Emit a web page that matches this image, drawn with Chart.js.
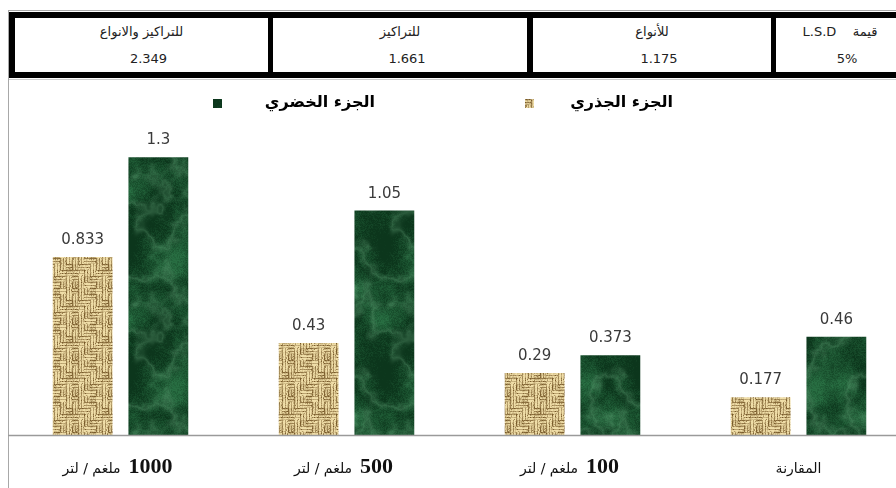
<!DOCTYPE html>
<html>
<head>
  <meta charset="UTF-8">
  <title>الجزء الجذري والجزء الخضري</title>
  <script src="https://cdn.jsdelivr.net/npm/chart.js"></script>
  <style>
    html, body {
      margin: 0;
      padding: 0;
      overflow: hidden;
      background: #fff;
    }

    #wrap {
      position: relative;
      width: 920px;
      height: 488px;
    }

    #chart {
      position: absolute;
      left: 0;
      top: 0;
    }

    #lsd {
      position: absolute;
      left: 9px;
      top: 12px;
      width: 901px;
      height: 66px;
      box-sizing: border-box;
      border: 6px solid #000;
      background: #000;
      display: flex;
    }

    .cell {
      background: #fff;
      text-align: center;
      font-family: 'DejaVu Sans', sans-serif;
      font-size: 13px;
      color: #222;
    }

    .cell div {
      height: 27px;
      line-height: 28px;
      white-space: nowrap;
    }

    .cell .val {
      padding-left: 14px;
    }

    .legend-box {
      position: absolute;
      width: 9px;
      height: 9px;
      top: 99px;
    }

    .legend-text {
      position: absolute;
      top: 92px;
      line-height: 20px;
      font-family: 'DejaVu Sans', sans-serif;
      font-weight: bold;
      font-size: 16px;
      color: #000;
      direction: rtl;
      white-space: nowrap;
    }
  </style>
</head>
<body>
  <div id="wrap">
    <canvas id="chart" width="920" height="488"></canvas>
    <div id="lsd"></div>
    <div class="legend-box" id="box-root" style="left:525px"></div>
    <span class="legend-text" id="txt-root" style="right:247px"></span>
    <div class="legend-box" id="box-shoot" style="left:213px"></div>
    <span class="legend-text" id="txt-shoot" style="right:545px"></span>
  </div>

  <script>
    const categories = ['1000 ملغم / لتر', '500 ملغم / لتر', '100 ملغم / لتر', 'المقارنة'];
    const seriesNames = ['الجزء الجذري', 'الجزء الخضري'];
    const rootValues = [0.833, 0.43, 0.29, 0.177];
    const shootValues = [1.3, 1.05, 0.373, 0.46];

    const lsdHeaders = ['للتراكيز والانواع', 'للتراكيز', 'للأنواع', 'قيمة\u00a0\u00a0\u00a0 L.S.D'];
    const lsdValues = ['2.349', '1.661', '1.175', '5%'];

    // small deterministic generator so the textures look the same every load
    function seeded(seed) {
      return function () {
        seed = (seed * 16807) % 2147483647;
        return (seed - 1) / 2147483646;
      };
    }

    // tileable value noise on a g x g lattice
    function makeNoise(g, rand) {
      const grid = [];
      for (let i = 0; i < g * g; i++) grid.push(rand());
      const at = (i, j) => grid[((j % g + g) % g) * g + ((i % g + g) % g)];
      const fade = t => t * t * (3 - 2 * t);
      return function (u, v) { // u, v in [0, 1)
        const x = u * g, y = v * g;
        const i = Math.floor(x), j = Math.floor(y);
        const fx = fade(x - i), fy = fade(y - j);
        const a = at(i, j) + (at(i + 1, j) - at(i, j)) * fx;
        const b = at(i, j + 1) + (at(i + 1, j + 1) - at(i, j + 1)) * fx;
        return a + (b - a) * fy;
      };
    }

    function fbm(layers, u, v) {
      let s = 0, w = 0.5, tot = 0;
      layers.forEach(n => { s += n(u, v) * w; tot += w; w *= 0.5; });
      return s / tot;
    }

    // woven sacking texture for the root bars
    function burlapTile() {
      const size = 36;
      const c = document.createElement('canvas');
      c.width = c.height = size;
      const g = c.getContext('2d');
      const img = g.createImageData(size, size);
      const rand = seeded(11);
      const light = [240, 222, 168];
      const dark = [120, 90, 42];
      const profile = [0.3, 0.85, 1.0, 0.45, 0.95, 0.8];
      const cellShade = [];
      for (let i = 0; i < 36; i++) cellShade.push((rand() - 0.5) * 0.35);
      for (let y = 0; y < size; y++) {
        for (let x = 0; x < size; x++) {
          const cx = Math.floor(x / 6), cy = Math.floor(y / 6);
          const horiz = (cx * 7 + cy * 3) % 4 < 2;
          let s = profile[horiz ? y % 6 : x % 6] + cellShade[cy * 6 + cx];
          s += (rand() - 0.5) * 0.35;
          if (rand() < 0.06) s -= 0.45;
          s = Math.max(0, Math.min(1, s));
          const i = (y * size + x) * 4;
          for (let k = 0; k < 3; k++) img.data[i + k] = dark[k] + (light[k] - dark[k]) * s;
          img.data[i + 3] = 255;
        }
      }
      g.putImageData(img, 0, 0);
      return c;
    }

    // green marble texture for the shoot bars
    function marbleTile() {
      const W = 128, H = 128;
      const c = document.createElement('canvas');
      c.width = W;
      c.height = H;
      const g = c.getContext('2d');
      const img = g.createImageData(W, H);
      const rand = seeded(29);
      const body = [makeNoise(4, rand), makeNoise(8, rand), makeNoise(16, rand), makeNoise(32, rand)];
      const veins = [makeNoise(4, rand), makeNoise(8, rand), makeNoise(16, rand), makeNoise(32, rand)];
      const deep = [12, 54, 28];
      const mid = [40, 110, 66];
      const vein = [100, 162, 120];
      for (let y = 0; y < H; y++) {
        for (let x = 0; x < W; x++) {
          const u = x / W, v = y / H;
          const b = fbm(body, u, v);
          const r = fbm(veins, u, v);
          const vn = Math.pow(Math.max(0, 1 - Math.abs(r - 0.5) * 7), 2);
          const t = Math.max(0, Math.min(1, (b - 0.25) * 1.8 + (rand() - 0.5) * 0.4));
          const i = (y * W + x) * 4;
          for (let k = 0; k < 3; k++) {
            const base = deep[k] + (mid[k] - deep[k]) * t;
            img.data[i + k] = base + (vein[k] - base) * vn * 0.35;
          }
          img.data[i + 3] = 255;
        }
      }
      g.putImageData(img, 0, 0);
      return c;
    }

    const burlap = burlapTile();
    const marble = marbleTile();
    const patCtx = document.createElement('canvas').getContext('2d');
    const rootFill = patCtx.createPattern(burlap, 'repeat');
    const shootFill = patCtx.createPattern(marble, 'repeat');

    // LSD table
    const cellWidths = [253, 254, 238, 128];
    const cellGaps = [0, 5, 6, 5];
    const lsd = document.getElementById('lsd');
    lsdHeaders.forEach((h, i) => {
      const cell = document.createElement('div');
      cell.className = 'cell';
      cell.style.width = cellWidths[i] + 'px';
      cell.style.marginLeft = cellGaps[i] + 'px';
      cell.innerHTML = `<div dir="rtl">${h}</div><div class="val">${lsdValues[i]}</div>`;
      lsd.appendChild(cell);
    });

    // legend
    document.getElementById('txt-root').textContent = seriesNames[0];
    document.getElementById('txt-shoot').textContent = seriesNames[1];
    document.getElementById('box-root').style.background = `url(${burlap.toDataURL()})`;
    document.getElementById('box-shoot').style.background = `url(${marble.toDataURL()})`;

    const framePlugin = {
      id: 'frame',
      beforeDraw(chart) {
        const ctx = chart.ctx;
        ctx.save();
        ctx.strokeStyle = '#a8a8a8';
        ctx.lineWidth = 1;
        ctx.beginPath();
        ctx.moveTo(8.5, 10);
        ctx.lineTo(8.5, chart.height);
        ctx.moveTo(8, 10.5);
        ctx.lineTo(chart.width, 10.5);
        ctx.stroke();
        ctx.strokeStyle = '#cfcfcf';
        ctx.beginPath();
        ctx.moveTo(9, 79.5);
        ctx.lineTo(chart.width, 79.5);
        ctx.stroke();
        ctx.restore();
      },
      afterDatasetsDraw(chart) {
        const ctx = chart.ctx;
        const y0 = Math.round(chart.scales.y.getPixelForValue(0)) + 0.5;
        ctx.save();
        ctx.strokeStyle = '#9a9a9a';
        ctx.lineWidth = 1.5;
        ctx.beginPath();
        ctx.moveTo(8, y0);
        ctx.lineTo(chart.width, y0);
        ctx.stroke();
        ctx.restore();
      }
    };

    const valueLabels = {
      id: 'valueLabels',
      afterDatasetsDraw(chart) {
        const ctx = chart.ctx;
        ctx.save();
        ctx.font = '15px "DejaVu Sans", sans-serif';
        ctx.fillStyle = '#3a3a3a';
        ctx.textAlign = 'center';
        ctx.textBaseline = 'alphabetic';
        chart.data.datasets.forEach((ds, di) => {
          chart.getDatasetMeta(di).data.forEach((bar, i) => {
            ctx.fillText(String(ds.data[i]), bar.x, bar.y - 13);
          });
        });
        ctx.restore();
      }
    };

    // category labels: bold number followed by the Arabic unit
    const categoryLabels = {
      id: 'categoryLabels',
      afterDraw(chart) {
        const ctx = chart.ctx;
        const xs = chart.scales.x;
        const numFont = 'bold 22px "Liberation Serif", serif';
        const arFont = '14px "DejaVu Sans", sans-serif';
        const baseY = 473;
        ctx.save();
        ctx.textBaseline = 'alphabetic';
        ctx.textAlign = 'left';
        ctx.fillStyle = '#111';
        categories.forEach((label, i) => {
          const cx = xs.getPixelForValue(i) - 3;
          const m = label.match(/^(\d+)\s+(.*)$/);
          if (m) {
            ctx.font = numFont;
            const wn = ctx.measureText(m[1]).width;
            ctx.font = arFont;
            ctx.direction = 'rtl';
            const wa = ctx.measureText(m[2]).width;
            const gap = 8;
            const left = cx - (wa + gap + wn) / 2;
            ctx.fillText(m[2], left, baseY);
            ctx.direction = 'ltr';
            ctx.font = numFont;
            ctx.fillText(m[1], left + wa + gap, baseY);
          } else {
            ctx.font = arFont;
            ctx.direction = 'rtl';
            ctx.textAlign = 'center';
            ctx.fillText(label, cx + 3, baseY);
            ctx.textAlign = 'left';
            ctx.direction = 'ltr';
          }
        });
        ctx.restore();
      }
    };

    new Chart(document.getElementById('chart'), {
      type: 'bar',
      data: {
        labels: categories,
        datasets: [
          {
            label: seriesNames[0],
            data: rootValues,
            backgroundColor: rootFill,
            categoryPercentage: 0.67,
            barPercentage: 0.79
          },
          {
            label: seriesNames[1],
            data: shootValues,
            backgroundColor: shootFill,
            categoryPercentage: 0.67,
            barPercentage: 0.79
          }
        ]
      },
      options: {
        responsive: false,
        animation: false,
        devicePixelRatio: 1,
        layout: {
          padding: { left: 7.5, right: 8.5, top: 93, bottom: 53 }
        },
        plugins: {
          legend: { display: false },
          tooltip: { enabled: false }
        },
        scales: {
          x: { display: false },
          y: { display: false, min: 0, max: 1.6 }
        }
      },
      plugins: [framePlugin, valueLabels, categoryLabels]
    });
  </script>
</body>
</html>
